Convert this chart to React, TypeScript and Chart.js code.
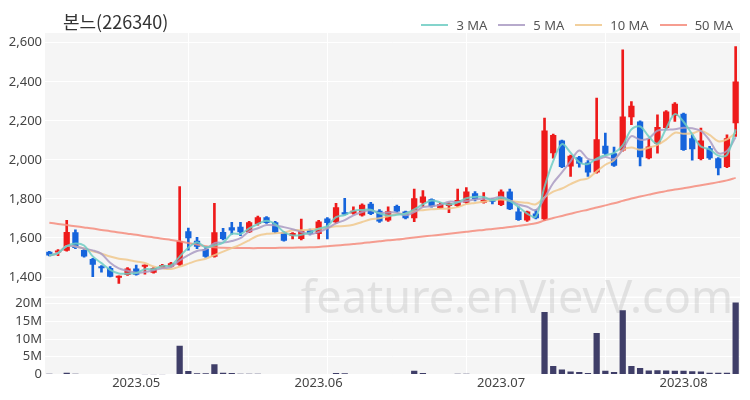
import React, { useEffect, useRef } from 'react';
import { Chart, registerables } from 'chart.js';

Chart.register(...registerables);

const title = '본느(226340)';

const dates = [
  '2023-04-17','2023-04-18','2023-04-19','2023-04-20','2023-04-21','2023-04-24','2023-04-25','2023-04-26','2023-04-27','2023-04-28',
  '2023-05-01','2023-05-02','2023-05-03','2023-05-04','2023-05-08','2023-05-09','2023-05-10','2023-05-11','2023-05-12','2023-05-15',
  '2023-05-16','2023-05-17','2023-05-18','2023-05-19','2023-05-22','2023-05-23','2023-05-24','2023-05-25','2023-05-26','2023-05-30',
  '2023-05-31','2023-06-01','2023-06-02','2023-06-05','2023-06-07','2023-06-08','2023-06-09','2023-06-12','2023-06-13','2023-06-14',
  '2023-06-15','2023-06-16','2023-06-19','2023-06-20','2023-06-21','2023-06-22','2023-06-23','2023-06-26','2023-06-27','2023-06-28',
  '2023-06-29','2023-06-30','2023-07-03','2023-07-04','2023-07-05','2023-07-06','2023-07-07','2023-07-10','2023-07-11','2023-07-12',
  '2023-07-13','2023-07-14','2023-07-17','2023-07-18','2023-07-19','2023-07-20','2023-07-21','2023-07-24','2023-07-25','2023-07-26',
  '2023-07-27','2023-07-28','2023-07-31','2023-08-01','2023-08-02','2023-08-03','2023-08-04','2023-08-07','2023-08-08','2023-08-09',
];

const openPrices = [
  1530,1525,1535,1629,1538,1492,1455,1446,1396,1410,
  1444,1452,1422,1447,1453,1463,1634,1586,1544,1504,
  1630,1655,1658,1629,1672,1706,1680,1629,1612,1595,
  1640,1620,1700,1680,1732,1725,1715,1775,1740,1689,
  1764,1735,1701,1781,1798,1752,1764,1764,1781,1829,
  1781,1798,1769,1838,1735,1689,1726,1696,2034,2099,
  1966,2014,1987,1935,2072,2034,2048,2219,2197,2009,
  2082,2163,2226,2236,2111,2004,2060,2009,1963,2188,
];
const highPrices = [
  1532,1540,1690,1642,1542,1496,1458,1453,1406,1448,
  1461,1463,1448,1465,1475,1863,1651,1603,1555,1778,
  1650,1680,1680,1685,1712,1710,1685,1632,1628,1697,
  1645,1690,1705,1778,1803,1760,1775,1783,1745,1760,
  1768,1738,1850,1843,1800,1780,1780,1850,1858,1838,
  1832,1800,1846,1850,1760,1738,1744,2214,2132,2102,
  2025,2018,1997,2316,2137,2065,2564,2299,2200,2106,
  2231,2253,2294,2240,2128,2163,2070,2012,2128,2581,
];
const lowPrices = [
  1508,1509,1533,1545,1502,1402,1425,1400,1367,1408,
  1410,1415,1420,1445,1450,1460,1538,1545,1500,1502,
  1590,1620,1612,1627,1665,1675,1626,1583,1595,1590,
  1615,1595,1595,1675,1718,1722,1712,1720,1680,1685,
  1732,1698,1684,1761,1758,1750,1730,1760,1778,1790,
  1778,1775,1765,1745,1690,1685,1698,1690,2009,1960,
  1915,1963,1915,1932,2026,1966,2045,2180,1969,2005,
  2034,2160,2197,2048,1999,2000,2003,1923,1960,2120,
];
const closePrices = [
  1510,1536,1630,1549,1505,1463,1445,1402,1406,1444,
  1412,1463,1446,1461,1470,1583,1598,1555,1504,1629,
  1595,1638,1629,1680,1706,1677,1629,1586,1625,1637,
  1620,1685,1677,1757,1720,1740,1770,1723,1684,1737,
  1735,1701,1804,1812,1761,1774,1778,1795,1838,1798,
  1795,1786,1838,1747,1692,1735,1701,2151,2128,1963,
  2021,1980,1935,2106,2031,1970,2222,2277,2014,2068,
  2168,2248,2287,2051,2055,2099,2009,1957,2111,2402,
];
const volumes = [
  150000,100000,450000,200000,100000,100000,80000,100000,100000,80000,
  80000,70000,60000,60000,80000,8100000,950000,300000,300000,2900000,
  500000,400000,200000,200000,150000,120000,120000,100000,100000,100000,
  100000,80000,100000,400000,350000,100000,100000,100000,100000,100000,
  80000,100000,1000000,400000,100000,100000,100000,150000,200000,100000,
  100000,80000,100000,100000,80000,80000,100000,17600000,2400000,1400000,
  800000,700000,400000,11700000,1000000,700000,18100000,2400000,1800000,1100000,
  1200000,1100000,1000000,1000000,900000,800000,500000,500000,500000,20300000,
];
// 50-day moving average (needs history before the first candle)
const ma50 = [
  1678,1672,1666,1660,1654,1648,1641,1635,1628,1622,
  1616,1609,1603,1596,1590,1583,1574,1566,1558,1552,
  1550,1549,1549,1548,1548,1549,1549,1550,1550,1551,
  1552,1554,1557,1561,1565,1569,1573,1578,1583,1588,
  1592,1597,1602,1607,1612,1617,1622,1627,1632,1637,
  1641,1646,1651,1656,1662,1668,1675,1690,1702,1713,
  1724,1735,1745,1756,1767,1778,1790,1802,1812,1822,
  1832,1840,1848,1855,1862,1870,1878,1886,1895,1908,
];

const priceTicks = [1400, 1600, 1800, 2000, 2200, 2400, 2600];
const volumeTicks = [0, 5000000, 10000000, 15000000, 20000000];

const maLegend = [
  { label: '3 MA', color: 'rgba(110,205,195,0.85)' },
  { label: '5 MA', color: 'rgba(170,155,195,0.85)' },
  { label: '10 MA', color: 'rgba(240,200,140,0.85)' },
  { label: '50 MA', color: 'rgba(245,140,125,0.85)' },
];

const UP = '#ee1a1a';
const DOWN = '#1564dc';
const VOL = '#3f3e68';

function sma(values: number[], n: number): number[] {
  return values.map((_, i) => {
    const s = Math.max(0, i - n + 1);
    const w = values.slice(s, i + 1);
    return w.reduce((a, b) => a + b, 0) / w.length;
  });
}

export default function App() {
  const ref = useRef<HTMLCanvasElement | null>(null);

  useEffect(() => {
    document.body.style.margin = '0';
    const canvas = ref.current;
    if (!canvas) return;
    const colors = closePrices.map((c, i) => (c >= openPrices[i] ? UP : DOWN));
    const bodies = openPrices.map((o, i) => [o, closePrices[i]]);
    const wicks = lowPrices.map((l, i) => [l, highPrices[i]]);
    const ma3 = sma(closePrices, 3);
    const ma5 = sma(closePrices, 5);
    const ma10 = sma(closePrices, 10);

    const panelPlugin = {
      id: 'panelBg',
      beforeDraw(chart: any) {
        const { ctx, chartArea, scales } = chart;
        ctx.save();
        ctx.fillStyle = '#f5f5f5';
        const p = scales.y;
        const v = scales.vol;
        ctx.fillRect(chartArea.left, p.top, chartArea.right - chartArea.left, p.bottom - p.top);
        ctx.fillRect(chartArea.left, v.top + 1.5, chartArea.right - chartArea.left, v.bottom - v.top - 1.5);
        ctx.restore();
      },
      beforeDatasetsDraw(chart: any) {
        const { ctx, chartArea, scales } = chart;
        ctx.save();
        ctx.font = '45px "Noto Sans"';
        ctx.fillStyle = 'rgba(195,195,195,0.42)';
        ctx.textAlign = 'right';
        ctx.textBaseline = 'alphabetic';
        ctx.fillText('feature.enVievV.com', chartArea.right - 7, scales.vol.top + 16);
        ctx.restore();
      },
    };

    const lineDs = (label: string, data: number[], color: string) => ({
      type: 'line' as const,
      label,
      data,
      yAxisID: 'y',
      borderColor: color,
      borderWidth: 2,
      pointRadius: 0,
      tension: 0.35,
      order: 0,
    });

    const chart = new Chart(canvas, {
      type: 'bar',
      data: {
        labels: dates,
        datasets: [
          lineDs('3 MA', ma3, maLegend[0].color),
          lineDs('5 MA', ma5, maLegend[1].color),
          lineDs('10 MA', ma10, maLegend[2].color),
          lineDs('50 MA', ma50, maLegend[3].color),
          {
            type: 'bar',
            label: 'wick',
            data: wicks as any,
            yAxisID: 'y',
            backgroundColor: colors,
            barThickness: 2,
            grouped: false,
            order: 3,
          },
          {
            type: 'bar',
            label: 'body',
            data: bodies as any,
            yAxisID: 'y',
            backgroundColor: colors,
            barPercentage: 0.72,
            categoryPercentage: 1,
            minBarLength: 2,
            grouped: false,
            order: 2,
          },
          {
            type: 'bar',
            label: 'volume',
            data: volumes,
            yAxisID: 'vol',
            backgroundColor: VOL,
            barPercentage: 0.72,
            categoryPercentage: 1,
            grouped: false,
            order: 2,
          },
        ] as any,
      },
      options: {
        responsive: false,
        animation: false,
        layout: { padding: { left: 0, right: 10, top: 33, bottom: 8 } },
        plugins: { legend: { display: false }, tooltip: { enabled: false } },
        scales: {
          x: {
            type: 'category',
            offset: true,
            grid: {
              offset: false,
              drawTicks: false,
              color: (c: any) => (c.index > 0 && c.index % 16 === 0 ? '#ffffff' : 'rgba(0,0,0,0)'),
            },
            border: { display: false },
            ticks: {
              autoSkip: false,
              maxRotation: 0,
              padding: 1,
              color: '#444',
              font: { size: 13, family: '"Noto Sans", sans-serif' },
              callback: (_v: any, i: number) => {
                const d = dates[i];
                const prev = i > 0 ? dates[i - 1] : null;
                if (prev && prev.slice(0, 7) !== d.slice(0, 7)) return d.slice(0, 7).replace('-', '.');
                return '';
              },
            },
          },
          vol: {
            type: 'linear',
            position: 'left',
            stack: 'panes',
            stackWeight: 78,
            min: 0,
            max: 22000000,
            grid: { color: '#ffffff', drawTicks: false },
            border: { display: false },
            afterBuildTicks: (s: any) => { s.ticks = volumeTicks.map((value) => ({ value })); },
            afterFit: (s: any) => { s.width = 45; },
            ticks: {
              autoSkip: false,
              padding: 3,
              color: '#444',
              font: { size: 13, family: '"Noto Sans", sans-serif' },
              callback: (v: any) => (v === 0 ? '0' : `${v / 1000000}M`),
            },
          },
          y: {
            type: 'linear',
            position: 'left',
            stack: 'panes',
            stackWeight: 264,
            min: 1300,
            max: 2650,
            grid: { color: '#ffffff', drawTicks: false },
            border: { display: false },
            afterBuildTicks: (s: any) => { s.ticks = priceTicks.map((value) => ({ value })); },
            afterFit: (s: any) => { s.width = 45; },
            ticks: {
              autoSkip: false,
              padding: 3,
              color: '#444',
              font: { size: 13, family: '"Noto Sans", sans-serif' },
              callback: (v: any) => Number(v).toLocaleString('en-US'),
            },
          },
        },
      } as any,
      plugins: [panelPlugin],
    });
    return () => chart.destroy();
  }, []);

  return (
    <div style={{ position: 'relative', width: 750, height: 400, background: '#fff' }}>
      <canvas ref={ref} width={750} height={400} style={{ display: 'block' }} />
      <div
        style={{
          position: 'absolute', left: 63, top: 9, fontSize: 18, lineHeight: '24px',
          fontFamily: '"Noto Sans CJK KR", "Noto Sans", sans-serif', color: '#333',
        }}
      >
        {title}
      </div>
      <div
        style={{
          position: 'absolute', right: 17, top: 15, display: 'flex', alignItems: 'center',
          fontSize: 13, lineHeight: '20px', fontFamily: '"Noto Sans", sans-serif', color: '#555',
        }}
      >
        {maLegend.map((m, i) => (
          <div key={m.label} style={{ display: 'flex', alignItems: 'center', marginLeft: i === 0 ? 0 : 11 }}>
            <span style={{ display: 'inline-block', width: 27, height: 2, background: m.color, marginRight: 8 }} />
            <span>{m.label}</span>
          </div>
        ))}
      </div>
    </div>
  );
}
